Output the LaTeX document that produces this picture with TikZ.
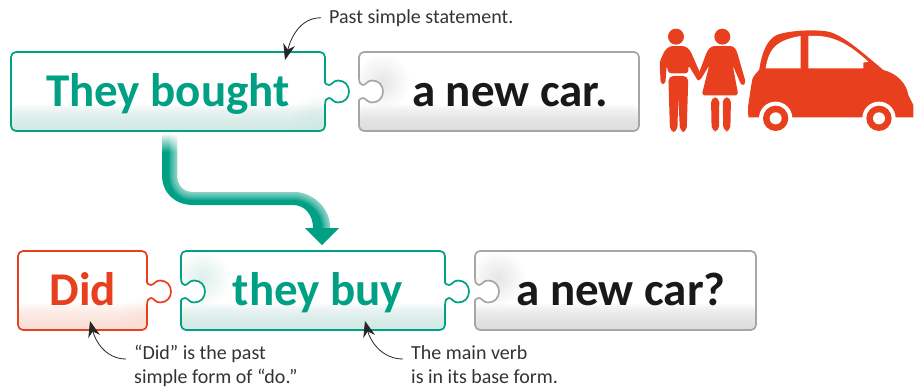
\documentclass[tikz,border=0pt]{standalone}
\usepackage{fontspec}
\setmainfont{Carlito}
\usetikzlibrary{arrows.meta,fadings}
\definecolor{tealgreen}{HTML}{00A085}
\definecolor{tealtint}{HTML}{CFE9E3}
\definecolor{carred}{HTML}{E8401E}
\definecolor{redtint}{HTML}{FBDDD4}
\definecolor{edgegray}{HTML}{A6A6A6}
\definecolor{graytint}{HTML}{DCDCDC}
\definecolor{notegray}{HTML}{333333}
\tikzfading[name=fuzzy disc, inner color=transparent!0, outer color=transparent!100]
\tikzfading[name=falling, top color=transparent!0, bottom color=transparent!100]
% bump of a puzzle piece, going down or up along the edge x=#1 around y=#2
\newcommand{\bumpdown}[2]{-- ({#1},{#2-14}) [sharp corners] .. controls ({#1},{#2-8}) and ({#1+2},{#2-6.5}) .. ({#1+4},{#2-6.5})
  .. controls ({#1+7},{#2-6.5}) and ({#1+8},{#2-11}) .. ({#1+13},{#2-11})
  .. controls ({#1+20},{#2-11}) and ({#1+24},{#2-6}) .. ({#1+24},{#2})
  .. controls ({#1+24},{#2+6}) and ({#1+20},{#2+11}) .. ({#1+13},{#2+11})
  .. controls ({#1+8},{#2+11}) and ({#1+7},{#2+6.5}) .. ({#1+4},{#2+6.5})
  .. controls ({#1+2},{#2+6.5}) and ({#1},{#2+8}) .. ({#1},{#2+14}) [rounded corners=5pt]}
\newcommand{\bumpup}[2]{-- ({#1},{#2+14}) [sharp corners] .. controls ({#1},{#2+8}) and ({#1+2},{#2+6.5}) .. ({#1+4},{#2+6.5})
  .. controls ({#1+7},{#2+6.5}) and ({#1+8},{#2+11}) .. ({#1+13},{#2+11})
  .. controls ({#1+20},{#2+11}) and ({#1+24},{#2+6}) .. ({#1+24},{#2})
  .. controls ({#1+24},{#2-6}) and ({#1+20},{#2-11}) .. ({#1+13},{#2-11})
  .. controls ({#1+8},{#2-11}) and ({#1+7},{#2-6.5}) .. ({#1+4},{#2-6.5})
  .. controls ({#1+2},{#2-6.5}) and ({#1},{#2-8}) .. ({#1},{#2-14}) [rounded corners=5pt]}
\newcommand{\shaftpath}{(162,133) -- (162,175) .. controls (162,193) and (175,205) .. (193,205) -- (293,205)
      .. controls (305,205) and (313,215) .. (313,228) -- (330,228)
      .. controls (330,207) and (312,192) .. (293,192) -- (192,192) .. controls (183,192) and (177,185) .. (177,175) -- (177,133) -- cycle}
\tikzset{
  piece/.style n args={3}{draw=#1, line width=1.7pt, line join=round, fill=white, path picture={
      \foreach \stripheight in {2,4,...,26} {
        \fill[#2, opacity=0.14] (path picture bounding box.south west) rectangle ([yshift=\stripheight pt]path picture bounding box.south east);
      }
      \fill[#2, opacity=0.7, path fading=fuzzy disc] (#3) circle (28);}},
  bigword/.style={anchor=base, inner sep=0pt, font=\fontsize{47}{47}\selectfont\bfseries},
  note/.style={anchor=north west, inner sep=0pt, align=left, text=notegray, font=\fontsize{20}{24}\selectfont},
  notearrow/.style={-{Stealth[length=16pt,width=12pt]}, line width=0.8pt, draw=black!85},
  shine/.style={white, opacity=0.09},
}
\begin{document}
\begin{tikzpicture}[x=1pt, y=-1pt]
    \useasboundingbox (0,0) rectangle (918,389);

    % Top row
    \draw[piece={tealgreen}{tealtint}{318,122}, rounded corners=5pt] (11,52) -- (325,52) \bumpdown{325}{91.5} -- (325,131) -- (11,131) -- cycle;
    \draw[piece={edgegray}{graytint}{382,82}, rounded corners=5pt] (359,52) -- (639,52) -- (639,131) -- (359,131) \bumpup{359}{91.5} -- cycle;
    \node[bigword, text=tealgreen] (bought) at (168,106) {They bought};
    \node[bigword, text=black!90] (newcar) at (510,106) {a new car.};

    % Bottom row
    \draw[piece={carred}{redtint}{145,325}, rounded corners=5pt] (18,251) -- (147,251) \bumpdown{147}{291.5} -- (147,330) -- (18,330) -- cycle;
    \draw[piece={tealgreen}{tealtint}{202,278}, rounded corners=5pt] (181,251) -- (445,251) \bumpdown{445}{291.5} -- (445,330) -- (181,330) \bumpup{181}{291.5} -- cycle;
    \draw[piece={edgegray}{graytint}{498,278}, rounded corners=5pt] (475,251) -- (756,251) -- (756,330) -- (475,330) \bumpup{475}{291.5} -- cycle;
    \node[bigword, text=carred] (did) at (83,305) {Did};
    \node[bigword, text=tealgreen] (buy) at (318,305) {they buy};
    \node[bigword, text=black!90] (newcarq) at (621,305) {a new car?};

    % Big arrow between the rows
    \fill[tealgreen] \shaftpath;
    \begin{scope}
      \clip \shaftpath;
      \foreach \shinewidth in {16,14,12,10,8,6,4,2} {
        \draw[shine, line width=\shinewidth pt] (177,133) -- (177,175) .. controls (177,185) and (183,192) .. (192,192) -- (293,192) .. controls (312,192) and (330,207) .. (330,228);
      }
    \end{scope}
    \fill[tealgreen] (305,228) -- (339,228) -- (322,245) -- cycle;
    \fill[white, path fading=falling] (161,133) rectangle (178,152);

    % Notes
    \node[note] (pastnote) at (329,9) {Past simple statement.};
    \node[note] (didnote) at (134,345) {``Did'' is the past\\simple form of ``do.''};
    \node[note] (basenote) at (411,345) {The main verb\\is in its base form.};
    \coordinate (pasttip) at (285,60);
    \coordinate (didtip) at (90,321);
    \coordinate (basetip) at (365,321);
    \draw[notearrow] ([xshift=-8pt]pastnote.west) to[out=180, in=75] (pasttip);
    \draw[notearrow] ([xshift=-8pt,yshift=-14pt]didnote.north west) to[out=180, in=-75] (didtip);
    \draw[notearrow] ([xshift=-8pt,yshift=-14pt]basenote.north west) to[out=180, in=-75] (basetip);

    % People and car
    \begin{scope}[shift={(620,20)}, x=0.3333pt, y=-0.3333pt]
      \fill[carred] (168,50) circle (24) (307,50) circle (24);
      % man
      \fill[carred, rounded corners=3pt] (150,78) -- (195,78) -- (210,90) -- (245,170) -- (236,186) -- (205,135) -- (205,160) -- (145,160) -- (140,135) -- (136,192) -- (122,192) -- (119,125) -- (135,90) -- cycle;
      \fill[carred, rounded corners=5pt] (145,168) -- (205,168) -- (200,336) -- (180,336) -- (175,230) -- (172,336) -- (150,336) -- cycle;
      % woman
      \fill[carred, rounded corners=3pt] (275,78) -- (340,78) -- (350,92) -- (378,190) -- (365,198) -- (338,135) -- (355,226) -- (245,226) -- (268,135) -- (240,182) -- (232,172) -- (262,92) -- cycle;
      \fill[carred, rounded corners=5pt] (273,232) -- (298,232) -- (297,334) -- (275,334) -- cycle;
      \fill[carred, rounded corners=5pt] (308,232) -- (333,232) -- (331,334) -- (310,334) -- cycle;
      % car
      \fill[carred] (385,292) -- (384,262) .. controls (390,220) and (395,185) .. (398,175) .. controls (405,160) and (415,155) .. (418,148)
        .. controls (425,100) and (440,60) .. (470,45) .. controls (510,30) and (590,28) .. (625,35) .. controls (670,45) and (730,100) .. (790,150)
        .. controls (830,160) and (860,190) .. (865,225) -- (880,255) -- (880,292) -- cycle;
      \fill[white] (437,145) .. controls (445,100) and (455,62) .. (542,48) -- (542,145) -- cycle;
      \fill[white] (565,48) .. controls (640,42) and (690,75) .. (745,125) -- (730,128) -- (730,145) -- (565,145) -- cycle;
      \foreach \wheelx in {467,777} {
        \fill[white] (\wheelx,295) circle (50);
        \fill[carred] (\wheelx,295) circle (38);
        \fill[white] (\wheelx,295) circle (18);
      }
      \fill[white] (400,293) rectangle (417,345);
      \fill[white] (517,293) rectangle (727,345);
      \fill[white] (827,293) rectangle (885,345);
    \end{scope}
\end{tikzpicture}
\end{document}
